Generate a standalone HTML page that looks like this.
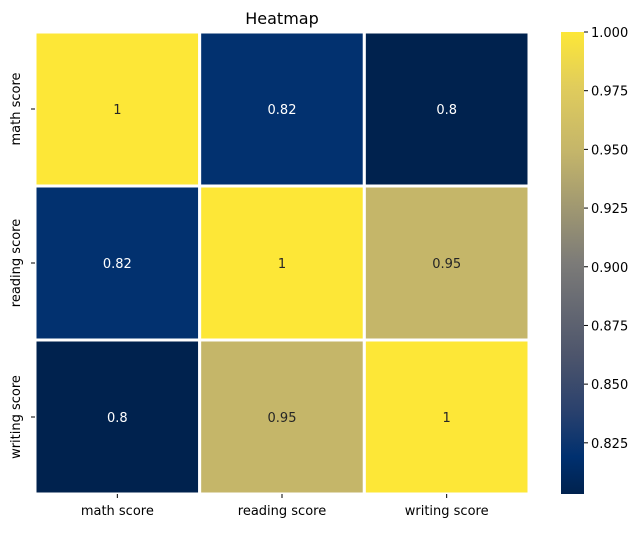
<!DOCTYPE html>
<html><head><meta charset="utf-8"><style>
body{margin:0;background:#fff;width:643px;height:528px;overflow:hidden}
svg{font-family:"DejaVu Sans","Liberation Sans",sans-serif}
</style></head><body>
<svg id="chart" width="643" height="528" xmlns="http://www.w3.org/2000/svg">
<defs>
<linearGradient id="cbgrad" x1="0" y1="1" x2="0" y2="0">
<stop offset="0" stop-color="#00224e"/><stop offset="0.08" stop-color="#00306f"/>
<stop offset="0.18" stop-color="#2a416d"/><stop offset="0.3" stop-color="#4d556c"/>
<stop offset="0.5" stop-color="#7c7b78"/><stop offset="0.74" stop-color="#c4b56a"/>
<stop offset="0.88" stop-color="#e0cc5c"/><stop offset="1" stop-color="#fde737"/>
</linearGradient>
</defs>
<text x="282" y="24" font-size="16" text-anchor="middle" fill="#000">Heatmap</text>
<g id="cells"></g>
<rect x="561" y="32" width="23" height="462" fill="url(#cbgrad)"/>
<g id="cbticks"></g>
</svg>
<script>
const labels = ["math score","reading score","writing score"];
const values = [[1,0.82,0.8],[0.82,1,0.95],[0.8,0.95,1]];
const cbTicks = [0.825,0.85,0.875,0.9,0.925,0.95,0.975,1.0];
const vmin = 0.8032, vmax = 1.0;
const stops = [[0,[0,34,78]],[0.08,[0,48,111]],[0.18,[42,65,109]],[0.3,[77,85,108]],[0.5,[124,123,120]],[0.74,[196,181,106]],[0.88,[224,204,92]],[1,[253,231,55]]];
const NS="http://www.w3.org/2000/svg";
const X0=35,X1=529,Y0=32,Y1=494;
const cw=(X1-X0)/labels.length, ch=(Y1-Y0)/labels.length;
function color(v){let t=(v-vmin)/(vmax-vmin);t=Math.max(0,Math.min(1,t));
 for(let i=1;i<stops.length;i++){if(t<=stops[i][0]){const a=stops[i-1],b=stops[i];const f=(t-a[0])/(b[0]-a[0]);
 return "rgb("+a[1].map((c,k)=>Math.round(c+(b[1][k]-c)*f)).join(",")+")";}}return "rgb(253,231,55)";}
function mk(tag,attrs,parent){const e=document.createElementNS(NS,tag);for(const k in attrs)e.setAttribute(k,attrs[k]);parent.appendChild(e);return e;}
const cells=document.getElementById('cells');
values.forEach((row,r)=>row.forEach((v,c)=>{
 const rc=mk('rect',{x:X0+c*cw,y:Y0+r*ch,width:cw,height:ch,fill:color(v),stroke:'#fff','stroke-width':3},cells);
 
 
 const t=mk('text',{x:X0+(c+0.5)*cw,y:Y0+(r+0.5)*ch+5,'font-size':13,'text-anchor':'middle',fill:((v-vmin)/(vmax-vmin)>0.5)?'#262626':'#fff'},cells);
 t.textContent=String(v);
 
 
}));
labels.forEach((l,i)=>{
 const x=X0+(i+0.5)*cw;
 mk('line',{x1:x,y1:Y1,x2:x,y2:Y1+4,stroke:'#000'},cells);
 const t=mk('text',{x:x,y:Y1+21,'font-size':13,'text-anchor':'middle',fill:'#000'},cells);
 t.textContent=l;
 
 
 const y=Y0+(i+0.5)*ch;
 mk('line',{x1:X0-4,y1:y,x2:X0,y2:y,stroke:'#000'},cells);
 const ty=mk('text',{x:0,y:0,'font-size':13,'text-anchor':'middle',fill:'#000',transform:'translate(20,'+y+') rotate(-90)'},cells);
 ty.textContent=l;
 
 
});
const cbt=document.getElementById('cbticks');
cbTicks.forEach(v=>{
 const y=Y1-(v-vmin)/(vmax-vmin)*(Y1-Y0);
 mk('line',{x1:584,y1:y,x2:588,y2:y,stroke:'#000'},cbt);
 const t=mk('text',{x:591,y:y+5,'font-size':13,fill:'#000'},cbt);
 t.textContent=v.toFixed(3);
 
 
});
</script>
</body></html>
